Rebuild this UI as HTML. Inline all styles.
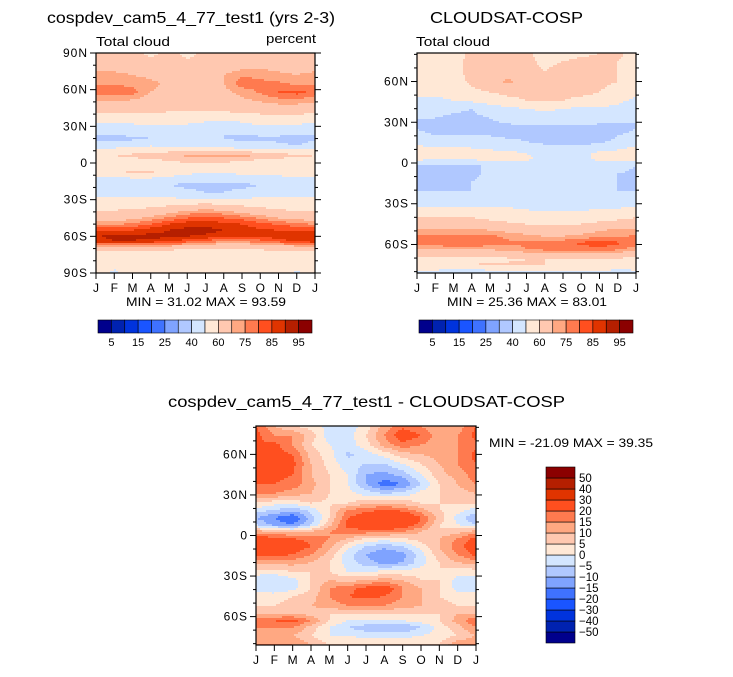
<!DOCTYPE html>
<html><head><meta charset="utf-8">
<style>
body{margin:0;background:#fff;width:733px;height:672px;overflow:hidden;font-family:"Liberation Sans",sans-serif;}
svg text{font-family:"Liberation Sans",sans-serif;fill:#000;}
</style></head>
<body>
<svg id="root" width="733" height="672" xmlns="http://www.w3.org/2000/svg">
<text x="47" y="23" font-size="16" textLength="288" lengthAdjust="spacingAndGlyphs">cospdev_cam5_4_77_test1 (yrs 2-3)</text>
<text x="430" y="23" font-size="16" textLength="153" lengthAdjust="spacingAndGlyphs">CLOUDSAT-COSP</text>
<text x="168" y="407" font-size="16" textLength="397" lengthAdjust="spacingAndGlyphs">cospdev_cam5_4_77_test1 - CLOUDSAT-COSP</text>
<text x="96" y="46" font-size="13" textLength="74" lengthAdjust="spacingAndGlyphs">Total cloud</text>
<text x="266" y="43" font-size="13" textLength="50" lengthAdjust="spacingAndGlyphs">percent</text>
<text x="416" y="46" font-size="13" textLength="74" lengthAdjust="spacingAndGlyphs">Total cloud</text>
<text x="126" y="306" font-size="12" textLength="160" lengthAdjust="spacingAndGlyphs">MIN =  31.02 MAX =  93.59</text>
<text x="447" y="306" font-size="12" textLength="160" lengthAdjust="spacingAndGlyphs">MIN =  25.36 MAX =  83.01</text>
<text x="489" y="447" font-size="12" textLength="164" lengthAdjust="spacingAndGlyphs">MIN = -21.09 MAX =  39.35</text>
</svg>
<script>
const months=["J","F","M","A","M","J","J","A","S","O","N","D","J"];
const colors=["#00008c","#0022b0","#0033dd","#1a55ff","#3f72ff","#7fa3ff","#b0c8ff","#d4e6ff","#ffe8d6","#ffc8b0","#ffa882","#ff7a4f","#ff4f1f","#e03400","#b51f00","#8b0000"];
const levels1=[5,10,15,20,25,30,40,50,60,70,75,80,85,90,95];
const levels3=[-50,-40,-30,-20,-15,-10,-5,0,5,10,15,20,30,40,50];
const lats1=[90,80,72,65,58,50,42,35,28,20,14,10,6,2,-4,-8,-13,-18,-24,-30,-35,-40,-45,-50,-55,-60,-64,-68,-72,-78,-84,-90];
const vals1=[
[62,62,62,58,62,58,62,60,62,62,63,60,62],
[66,66,66,64,64,62,61,65,67,68,66,66,66],
[72,72,70,68,66,64,64,70,74,74,72,70,72],
[74,74,74,72,68,66,66,70,78,76,76,74,74],
[78,78,77,70,67,65,65,68,72,76,80,82,78],
[70,70,68,66,65,64,64,66,68,70,72,72,70],
[61,61,61,61,60,60,60,60,61,62,63,63,61],
[52,52,53,55,55,54,52,50,52,55,56,55,52],
[44,45,46,46,46,45,42,40,44,46,46,45,44],
[38,38,38,40,40,40,40,40,38,38,38,36,38],
[45,46,48,50,48,46,45,45,44,44,42,40,45],
[55,55,56,57,58,58,58,58,57,56,55,54,55],
[60,60,62,64,66,72,74,72,73,68,64,62,60],
[55,55,57,58,60,62,62,62,60,58,57,55,55],
[52,52,54,55,55,55,55,55,54,54,52,52,52],
[55,60,62,62,56,52,50,50,52,52,52,53,55],
[48,48,48,48,46,44,44,44,45,46,48,48,48],
[45,45,45,44,40,38,38,38,38,40,44,45,45],
[46,46,46,46,44,42,40,40,42,44,46,46,46],
[52,52,52,52,52,52,52,52,52,52,52,52,52],
[56,57,58,58,60,62,64,62,60,58,57,56,56],
[60,61,62,64,68,72,74,72,68,65,62,61,60],
[66,66,68,72,76,80,82,80,78,74,70,68,66],
[74,74,76,80,85,88,88,87,85,82,79,77,74],
[84,84,85,88,90,92,92,90,88,86,85,85,84],
[90,91,91,92,91,90,89,87,86,86,88,89,90],
[88,90,90,88,86,82,78,76,76,78,82,86,88],
[72,72,72,72,70,68,66,64,64,66,68,70,72],
[60,60,58,60,58,56,56,56,56,58,60,60,60],
[56,56,56,52,55,55,55,58,55,55,55,58,56],
[55,52,56,55,56,54,55,55,55,55,55,55,55],
[55,48,55,55,56,56,55,55,55,55,55,48,55]];
const lats2=[81,75,68,60,52,46,40,33,25,20,16,11,7,3,-2,-8,-14,-20,-26,-31,-36,-42,-48,-54,-59,-63,-67,-71,-75,-79,-81];
const vals2=[
[56,56,56,62,68,64,62,56,56,58,60,62,56],
[56,56,58,62,66,64,62,58,60,62,62,60,56],
[56,56,58,62,64,64,62,60,62,62,62,60,56],
[55,55,56,62,66,72,66,62,62,62,62,60,55],
[52,52,54,58,60,62,62,62,62,62,60,56,52],
[48,48,50,52,55,58,60,60,60,58,56,52,48],
[45,44,42,40,45,48,50,52,50,48,48,48,45],
[40,40,38,38,40,42,44,45,45,44,42,42,40],
[40,38,38,38,38,38,38,38,38,38,38,38,40],
[42,40,40,40,40,38,38,36,34,34,36,40,42],
[46,44,44,44,44,42,40,36,34,34,38,42,46],
[52,52,52,50,48,48,46,45,44,45,46,48,52],
[56,58,60,58,54,52,50,48,46,48,52,54,56],
[52,52,52,52,52,52,52,46,45,48,52,52,52],
[40,38,38,38,42,45,45,44,44,44,46,44,40],
[38,38,38,38,42,45,45,46,50,48,44,40,38],
[38,38,38,40,44,45,45,46,46,44,42,40,38],
[40,40,40,40,42,45,45,45,45,44,42,40,40],
[45,45,45,46,46,46,46,44,44,44,42,42,45],
[48,48,48,48,48,48,46,42,42,42,44,46,48],
[55,55,55,55,55,54,52,50,50,52,54,55,55],
[62,62,62,62,60,58,56,55,55,56,58,60,62],
[70,70,70,70,68,66,64,62,62,64,68,70,70],
[76,76,76,76,76,74,72,70,70,72,74,74,76],
[78,78,79,79,78,76,76,77,79,81,83,81,78],
[72,72,72,72,72,72,75,77,77,78,79,77,72],
[64,64,64,64,64,66,68,70,70,70,70,68,64],
[56,56,56,56,56,58,60,60,60,60,60,58,56],
[58,58,58,60,62,62,62,60,58,58,58,58,58],
[50,50,48,48,50,52,52,52,52,52,52,48,50],
[45,45,45,45,46,48,48,48,48,48,48,45,45]];
const lats3=[81,74,67,60,53,45,38,31,24,19,13,8,3,-2,-8,-14,-20,-27,-33,-39,-45,-52,-58,-63,-68,-74,-81];
const vals3=[
[20,10,5,3,-2,-3,2,12,18,15,10,12,20],
[22,15,15,8,-3,-2,5,15,25,20,12,15,22],
[20,22,15,5,0,-3,3,12,18,15,12,15,18],
[22,22,20,8,2,-6,-3,2,8,10,12,15,22],
[22,22,22,10,3,-3,-5,-5,0,5,10,15,20],
[22,22,20,10,5,0,-10,-12,-8,0,8,12,18],
[20,20,18,12,5,0,-10,-18,-15,-5,5,10,15],
[15,15,12,10,5,2,-2,-5,-3,2,5,8,10],
[5,2,2,5,4,5,8,10,8,5,5,5,5],
[-2,-5,-8,-3,5,15,18,20,18,12,5,2,-2],
[-10,-15,-20,-8,5,20,25,30,30,20,8,-2,-10],
[-5,-12,-15,-5,8,22,25,28,25,18,5,0,-5],
[12,10,8,10,15,18,18,18,15,10,5,8,12],
[22,22,20,18,15,10,5,3,5,8,10,15,22],
[25,25,25,20,12,2,-5,-8,-5,2,10,18,25],
[22,22,20,15,8,-3,-10,-15,-12,-2,8,15,22],
[12,12,12,10,5,-2,-8,-12,-10,-2,5,10,12],
[2,2,5,5,5,0,0,2,2,3,5,2,2],
[-3,-5,-2,5,10,8,10,12,10,5,5,-2,-3],
[-2,-3,-2,5,15,18,22,25,15,10,5,-2,-2],
[2,2,5,8,15,20,22,20,15,10,5,2,2],
[5,5,8,10,12,15,15,15,12,10,8,5,5],
[10,10,10,8,5,5,5,5,5,5,5,10,10],
[20,20,22,15,5,0,0,0,0,2,5,12,20],
[15,15,15,8,0,-5,-8,-8,-10,-5,2,8,15],
[10,10,10,5,0,0,-2,-2,-2,0,2,5,10],
[15,15,15,10,5,5,5,5,5,5,5,15,15]];

const NS="http://www.w3.org/2000/svg";
const root=document.getElementById('root');
function mk(tag,attrs,parent){const e=document.createElementNS(NS,tag);for(const k in attrs)e.setAttribute(k,attrs[k]);(parent||root).appendChild(e);return e;}
function colorIdx(v,lv){let i=0;while(i<lv.length&&v>=lv[i])i++;return i;}
function sample(lats,vals,lat,m){
  let r=0;while(r<lats.length-2&&lat<lats[r+1])r++;
  let t=(lats[r]-lat)/(lats[r]-lats[r+1]);t=Math.max(0,Math.min(1,t));
  let c=Math.min(11,Math.floor(m));let u=m-c;
  const a=vals[r][c]*(1-u)+vals[r][c+1]*u,b=vals[r+1][c]*(1-u)+vals[r+1][c+1]*u;
  return a*(1-t)+b*t;
}
function panel(name,x0,y0,w,h,latTop,latBot,lats,vals,lv,yTicks){
  const g=mk('g',{});
  
  
  const cell=2;
  const ny=Math.ceil(h/cell),nx=Math.ceil(w/cell);
  const ys=v=>y0+(latTop-v)/(latTop-latBot)*h;
  const xs=m=>x0+m/12*w;
  for(let j=0;j<ny;j++){
    const lat=latTop-(j+0.5)*cell/h*(latTop-latBot);
    let start=0,prev=null;
    for(let i=0;i<=nx;i++){
      let ci=null;
      if(i<nx){const m=(i+0.5)*cell/w*12;ci=colorIdx(sample(lats,vals,lat,m),lv);}
      if(ci!==prev){
        if(prev!==null){
          const r=mk('rect',{x:x0+start*cell,y:y0+j*cell,width:Math.min((i-start)*cell,w-start*cell),height:Math.min(cell,h-j*cell)+0.3,fill:colors[prev]},g);
          
          
        }
        start=i;prev=ci;
      }
    }
  }
  const fr=mk('rect',{x:x0,y:y0,width:w,height:h,fill:'none',stroke:'#000','stroke-width':1.2});
  
  
  for(let l=Math.ceil(latBot/10)*10;l<=latTop;l+=10){
    const y=ys(l);const maj=l%30===0;const len=maj?6:3;
    mk('line',{x1:x0-len,x2:x0,y1:y,y2:y,stroke:'#000','stroke-width':1});
    mk('line',{x1:x0+w,x2:x0+w+len,y1:y,y2:y,stroke:'#000','stroke-width':1});
  }
  yTicks.forEach(l=>{
    const t=mk('text',{x:x0-8,y:ys(l)+4,'font-size':12,'text-anchor':'end','letter-spacing':1});
    t.textContent=l===0?'0':(Math.abs(l)+(l>0?'N':'S'));
    
    
  });
  months.forEach((mo,i)=>{
    const x=xs(i);
    mk('line',{x1:x,x2:x,y1:y0+h,y2:y0+h+6,stroke:'#000','stroke-width':1});
    const t=mk('text',{x:x,y:y0+h+19,'font-size':12,'text-anchor':'middle'});
    t.textContent=mo;
    
    
  });
}
panel('panel1',96,53,219,220,90,-90,lats1,vals1,levels1,[90,60,30,0,-30,-60,-90]);
panel('panel2',417,53,219,220,81,-81,lats2,vals2,levels1,[60,30,0,-30,-60]);
panel('panel3',256,426,220,219,81,-81,lats3,vals3,levels3,[60,30,0,-30,-60]);

function hbar(name,x0,y0,w,h){
  const bw=w/16;
  colors.forEach((c,i)=>{
    const r=mk('rect',{x:x0+i*bw,y:y0,width:bw,height:h,fill:c,stroke:'#000','stroke-width':0.6});
    
    
  });
  levels1.forEach((l,i)=>{
    if(i%2)return;
    const t=mk('text',{x:x0+(i+1)*bw,y:y0+h+13,'font-size':11,'text-anchor':'middle'});
    t.textContent=l;
    
    
  });
}
hbar('colorbar1',98,320,214,13);
hbar('colorbar2',419,320,214,13);
(function(){
  const x0=546,y0=467,w=29,h=176,bh=h/16;
  colors.forEach((c,i)=>{
    const r=mk('rect',{x:x0,y:y0+h-(i+1)*bh,width:w,height:bh,fill:c,stroke:'#000','stroke-width':0.6});
    
    
  });
  levels3.forEach((l,i)=>{
    const t=mk('text',{x:x0+w+4,y:y0+h-(i+1)*bh+4,'font-size':11.5});
    t.textContent=l<0?'\u2212'+Math.abs(l):l;
    
    
  });
})();
</script>
</body></html>
